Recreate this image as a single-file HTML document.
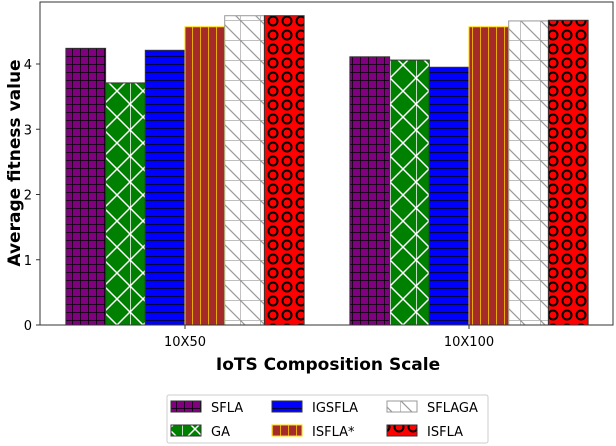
<!DOCTYPE html>
<html><head><meta charset="utf-8"><style>
html,body{margin:0;padding:0;background:#fff;}
svg{display:block;font-family:"DejaVu Sans","Liberation Sans",sans-serif;}
</style></head><body>
<svg id="c" width="616" height="446" viewBox="0 0 616 446">
<defs>
<pattern id="p0" patternUnits="userSpaceOnUse" width="8" height="8"><rect width="8" height="8" fill="#800080"/><path d="M0 0H8M0 0V8" stroke="#000" stroke-width="1.5"/></pattern>
<pattern id="p1" patternUnits="userSpaceOnUse" width="26" height="26"><rect width="26" height="26" fill="#008000"/><path d="M0 0L26 26M26 0L0 26M0 0V26" stroke="#fff" stroke-width="1.5"/></pattern>
<pattern id="p2" patternUnits="userSpaceOnUse" width="8" height="8"><rect width="8" height="8" fill="#0000ff"/><path d="M0 0H8" stroke="#000" stroke-width="1.5"/></pattern>
<pattern id="p3" patternUnits="userSpaceOnUse" width="8" height="8"><rect width="8" height="8" fill="#a52a2a"/><path d="M0 0V8" stroke="#ffd700" stroke-width="1.5"/></pattern>
<pattern id="p4" patternUnits="userSpaceOnUse" width="20" height="20"><rect width="20" height="20" fill="#fff"/><path d="M0 0H20M0 0V20M0 0L20 20" stroke="#999" stroke-width="1.2"/></pattern>
<pattern id="p5" patternUnits="userSpaceOnUse" width="14" height="14"><rect width="14" height="14" fill="#ff0000"/><circle cx="7" cy="7" r="4.5" fill="none" stroke="#000" stroke-width="2"/></pattern>
</defs>
<g id="bars"></g>
<rect x="40" y="2" width="573" height="323" fill="none" stroke="#333" stroke-width="1"/>
<g id="axes"></g>
<text x="328" y="370" text-anchor="middle" font-size="17" font-weight="bold">IoTS Composition Scale</text>
<text transform="translate(20,163) rotate(-90)" text-anchor="middle" font-size="17" font-weight="bold">Average fitness value</text>
<rect x="167" y="395" width="321" height="48" fill="#fff" stroke="#ccc" rx="2"/>
<g id="legend"></g>
</svg>
<script>
const categories = ["10X50","10X100"];
const seriesNames = ["SFLA","GA","IGSFLA","ISFLA*","SFLAGA","ISFLA"];
const sfla = [4.24, 4.11];
const ga = [3.71, 4.06];
const igsfla = [4.21, 3.95];
const isflaStar = [4.57, 4.57];
const sflaga = [4.74, 4.66];
const isfla = [4.74, 4.67];
const yTicks = [0,1,2,3,4];
const seriesValues = [sfla, ga, igsfla, isflaStar, sflaga, isfla];
const strokes = ["#333","#333","#333","#ffd700","#999","#333"];
const NS = "http://www.w3.org/2000/svg";
const x0 = 40, x1 = 613, yBase = 325, unit = 65.25;
const groupCenters = [185, 469];
const bw = 39.7;
function y(v){ return yBase - v*unit; }
function xc(i){ return groupCenters[i]; }
function mk(tag, attrs, parent){ const e=document.createElementNS(NS,tag); for(const k in attrs) e.setAttribute(k,attrs[k]); parent.appendChild(e); return e; }
const gb = document.getElementById('bars');
seriesValues.forEach((vals, s) => {
  vals.forEach((v, i) => {
    const left = xc(i) - 3*bw + s*bw;
    const r = mk('rect', {x:left, y:y(v), width:bw, height:yBase-y(v), fill:`url(#p${s})`, stroke:strokes[s], 'stroke-width':1}, gb);
    
    
  });
});
const ga2 = document.getElementById('axes');
yTicks.forEach(t => {
  mk('line', {x1:x0-4, x2:x0, y1:y(t), y2:y(t), stroke:'#333'}, ga2);
  const tx = mk('text', {x:x0-8, y:y(t)+5, 'text-anchor':'end', 'font-size':13}, ga2);
  tx.textContent = t;
  
  
});
categories.forEach((c, i) => {
  mk('line', {x1:xc(i), x2:xc(i), y1:yBase, y2:yBase+4, stroke:'#333'}, ga2);
  const tx = mk('text', {x:xc(i), y:346, 'text-anchor':'middle', 'font-size':13}, ga2);
  tx.textContent = c;
  
  
});
const gl = document.getElementById('legend');
const lx = [171, 272, 387], ly = [407, 431];
seriesNames.forEach((n, s) => {
  const col = Math.floor(s/2), row = s%2;
  const r = mk('rect', {x:lx[col], y:ly[row]-6, width:30, height:11, fill:`url(#p${s})`, stroke:strokes[s]}, gl);
  
  
  const t = mk('text', {x:lx[col]+40, y:ly[row]+5, 'font-size':13}, gl);
  t.textContent = n;
  
  
});
</script>
</body></html>
